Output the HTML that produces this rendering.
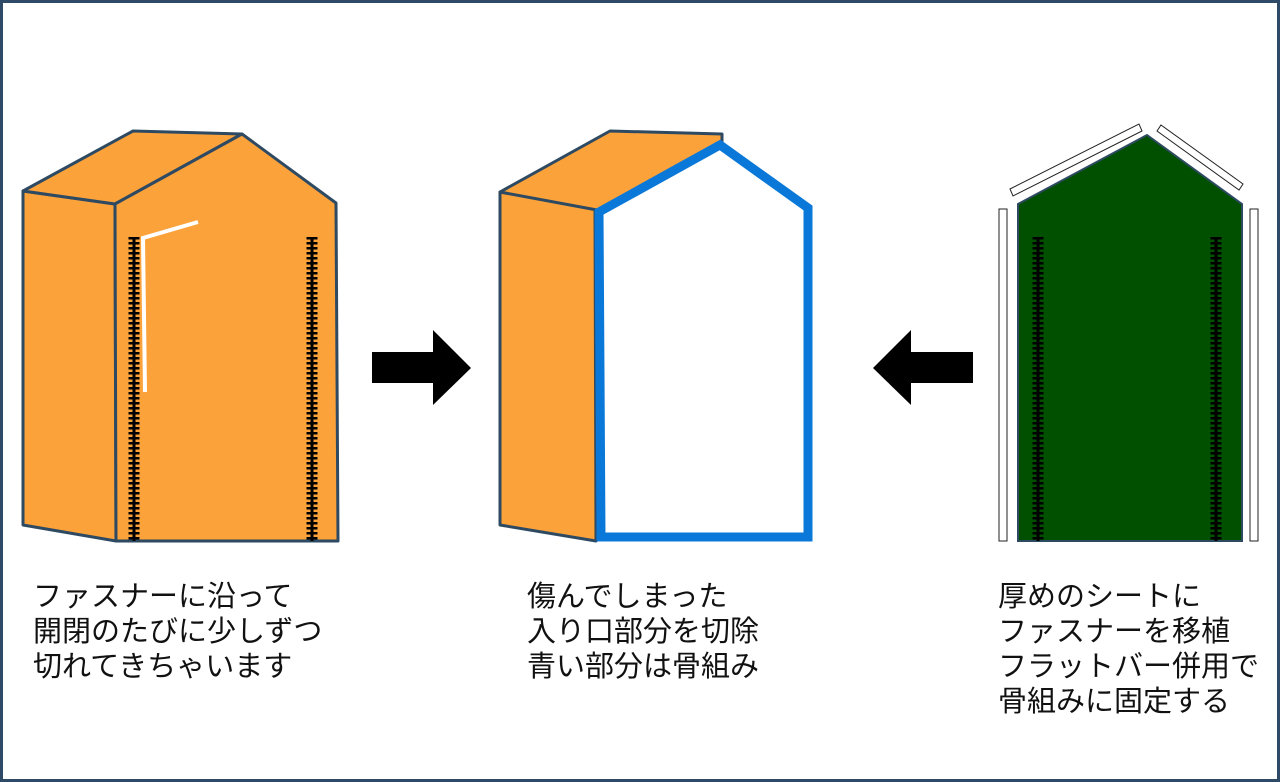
<!DOCTYPE html>
<html><head><meta charset="utf-8"><style>
html,body{margin:0;padding:0;background:#fff}
.wrap{position:relative;width:1280px;height:782px;box-sizing:border-box;border:3px solid #2f4a66;overflow:hidden}
svg{position:absolute;left:-3px;top:-3px}
.t{position:absolute;font-family:"Liberation Sans","Noto Sans CJK JP",sans-serif;font-size:29px;line-height:35px;color:#111;white-space:nowrap}
</style></head><body><div class="wrap">
<svg width="1280" height="782" viewBox="0 0 1280 782" xmlns="http://www.w3.org/2000/svg">
<g stroke="#2e4a62" stroke-width="3" stroke-linejoin="round" fill="#fba23b">
<polygon points="23,191 115,204 116,541 23,525"/>
<polygon points="23,191 133,131 242,134 115,204"/>
<polygon points="115,204 242,134 336,203 338,541 116,541"/>
</g>
<g stroke="#000">
<line x1="134" y1="237" x2="134" y2="541" stroke-width="3"/>
<line x1="134" y1="237" x2="134" y2="541" stroke-width="11" stroke-dasharray="2.5,2.5"/>
<line x1="312" y1="237" x2="312" y2="541" stroke-width="3"/>
<line x1="312" y1="237" x2="312" y2="541" stroke-width="11" stroke-dasharray="2.5,2.5"/>
</g>
<polyline points="198,222 143,238 145,392" fill="none" stroke="#fff" stroke-width="4"/>
<g stroke="#2e4a62" stroke-width="3" stroke-linejoin="round" fill="#fba23b">
<polygon points="500,192 595,207 596,541 500,525"/>
<polygon points="500,192 610,131 722,134 722,144 597,210"/>
</g>
<polygon points="599,212 720,145 808,208 808,537 601,537" fill="#fff" stroke="#0a78d8" stroke-width="9" stroke-linejoin="miter"/>
<polygon points="372,352 433,352 433,330 471,368 433,405 433,383 372,383" fill="#000"/>
<polygon points="973,352 911,352 911,330 873,368 911,405 911,383 973,383" fill="#000"/>
<polygon points="1018,204 1147,135 1242,204 1242,541 1018,541" fill="#005000" stroke="#2e4a62" stroke-width="2"/>
<g stroke="#000">
<line x1="1038" y1="237" x2="1038" y2="541" stroke-width="3"/>
<line x1="1038" y1="237" x2="1038" y2="541" stroke-width="11" stroke-dasharray="2.5,2.5"/>
<line x1="1216" y1="237" x2="1216" y2="541" stroke-width="3"/>
<line x1="1216" y1="237" x2="1216" y2="541" stroke-width="11" stroke-dasharray="2.5,2.5"/>
</g>
<g fill="#fff" stroke="#222" stroke-width="1">
<rect x="999" y="209" width="8" height="332"/>
<rect x="1250" y="209" width="8" height="332"/>
<polygon points="1010,189 1139,124 1142,131 1013,196"/>
<polygon points="1161,125 1243,184 1239,190 1157,131"/>
</g>
</svg>
<div class="t" style="left:30px;top:577px">ファスナーに沿って<br>開閉のたびに少しずつ<br>切れてきちゃいます</div>
<div class="t" style="left:524px;top:577px">傷んでしまった<br>入り口部分を切除<br>青い部分は骨組み</div>
<div class="t" style="left:995px;top:577px">厚めのシートに<br>ファスナーを移植<br>フラットバー併用で<br>骨組みに固定する</div>
</div></body></html>
